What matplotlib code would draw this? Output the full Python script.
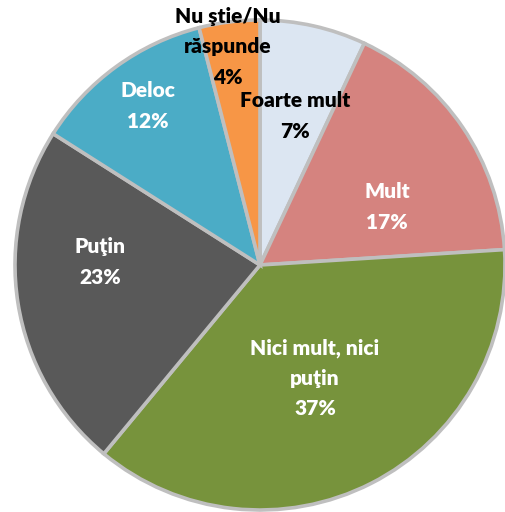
import matplotlib.pyplot as plt

labels = ["Foarte mult", "Mult", "Nici mult, nici\npuţin", "Puţin", "Deloc", "Nu ştie/Nu\nrăspunde"]
values = [7, 17, 37, 23, 12, 4]
colors = ["#dce6f2", "#d5837f", "#77933c", "#595959", "#4bacc6", "#f79646"]
text_colors = ["black", "white", "white", "white", "white", "black"]
# label centres in pixels (x, y from top)
label_px = [(295, 116), (387, 207), (315, 378), (100, 262), (148, 106), (228, 47)]

W, H = 505, 512
cx, cy, R = 260, 265, 245

fig = plt.figure(figsize=(W / 100, H / 100), dpi=100)
ax = fig.add_axes([0, 0, 1, 1])
ax.pie(values, colors=colors, startangle=90, counterclock=False, radius=1,
       wedgeprops=dict(edgecolor="#bfbfbf", linewidth=2.6))
ax.set_xlim((0 - cx) / R, (W - cx) / R)
ax.set_ylim((cy - H) / R, cy / R)
ax.set_aspect("equal", adjustable="box")
ax.axis("off")

for lab, v, tc, (px, py) in zip(labels, values, text_colors, label_px):
    ax.text((px - cx) / R, (cy - py) / R, "%s\n%d%%" % (lab, v), color=tc,
            ha="center", va="center", fontsize=15, fontweight="heavy",
            family=["Lato", "DejaVu Sans"], linespacing=1.7)

fig.savefig("out.png", dpi=100)
